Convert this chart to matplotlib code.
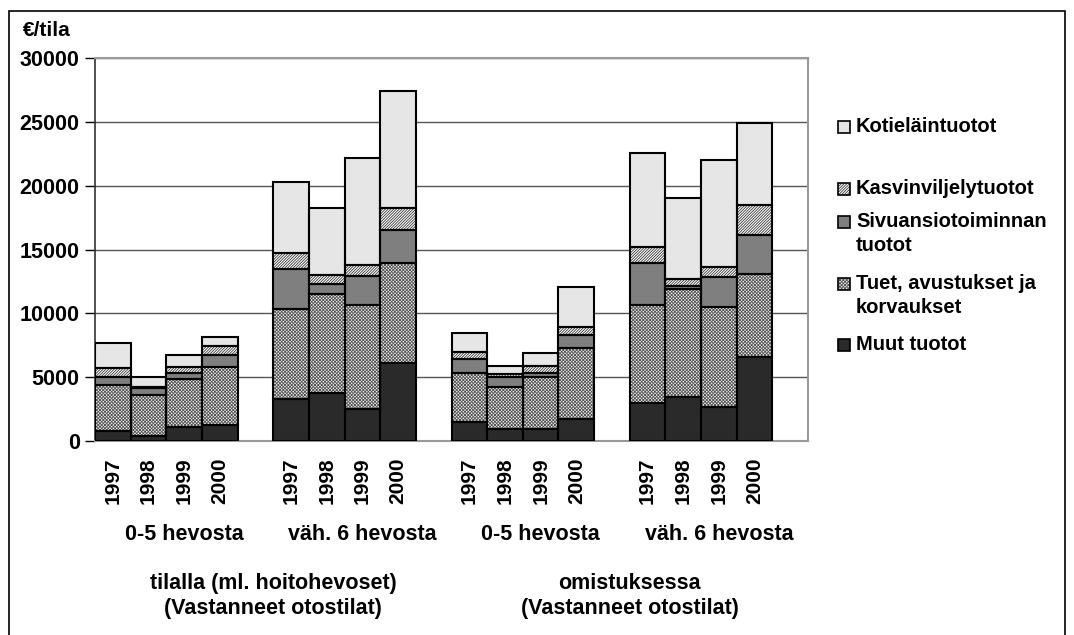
import matplotlib
import matplotlib.pyplot as plt
from matplotlib.patches import Rectangle
from matplotlib.transforms import blended_transform_factory

matplotlib.use("agg")

plt.rcParams["font.family"] = ["Liberation Sans", "DejaVu Sans"]
plt.rcParams["font.weight"] = "bold"
plt.rcParams["hatch.linewidth"] = 0.6

# values per bar, order: 4 years x (tilalla 0-5, tilalla 6+, omistuksessa 0-5, omistuksessa 6+)
years = ["1997", "1998", "1999", "2000"]
group_labels = ["0-5 hevosta", "väh. 6 hevosta", "0-5 hevosta", "väh. 6 hevosta"]
top_labels = ["tilalla (ml. hoitohevoset)\n(Vastanneet otostilat)",
              "omistuksessa\n(Vastanneet otostilat)"]

muut = [800, 400, 1120, 1250, 3320, 3790, 2480, 6080,
        1460, 970, 940, 1750, 3000, 3470, 2690, 6570]
tuet = [3580, 3200, 3710, 4520, 7000, 7750, 8160, 7880,
        3840, 3260, 4100, 5510, 7670, 8400, 7770, 6550]
sivu = [630, 520, 520, 940, 3130, 780, 2300, 2580,
        1090, 810, 260, 1010, 3240, 260, 2410, 2980]
kasvi = [680, 110, 470, 750, 1250, 650, 830, 1730,
         610, 180, 570, 630, 1270, 580, 750, 2350]
kotie = [2010, 770, 910, 680, 5610, 5300, 8410, 9180,
         1430, 630, 1020, 3150, 7340, 6360, 8400, 6420]

series = [
    # label, values, face, hatch, hatch colour
    ("Muut tuotot", muut, "#2a2a2a", None, "#2a2a2a"),
    ("Tuet, avustukset ja\nkorvaukset", tuet, "#eeeeee", "x" * 10, "#555555"),
    ("Sivuansiotoiminnan\ntuotot", sivu, "#7f7f7f", None, "#7f7f7f"),
    ("Kasvinviljelytuotot", kasvi, "white", "/" * 12, "#383838"),
    ("Kotieläintuotot", kotie, "#e6e6e6", None, "#e6e6e6"),
]

W, H = 1074, 635
fig = plt.figure(figsize=(W / 100, H / 100), dpi=100)
ax = fig.add_axes([95 / W, 1 - 441 / H, 713 / W, 383 / H])

x = [g * 5 + i for g in range(4) for i in range(4)]
bottom = [0] * len(x)
for label, vals, face, hatch, hcol in series:
    ax.bar(x, vals, bottom=bottom, width=1, color=face, hatch=hatch,
           edgecolor=hcol, linewidth=0, zorder=3)
    ax.bar(x, vals, bottom=bottom, width=1, facecolor="none",
           edgecolor="black", linewidth=1.5, zorder=4)
    bottom = [b + v for b, v in zip(bottom, vals)]

ax.set_xlim(-0.5, 19.5)
ax.set_ylim(0, 30000)
ax.set_yticks(range(0, 30001, 5000))
ax.tick_params(axis="y", labelsize=15.5, length=7, width=1, color="black", pad=4)
ax.yaxis.grid(True, color="#555555", linewidth=1, zorder=0)
ax.set_axisbelow(True)

ax.set_xticks(x, years * 4, rotation=90, fontsize=15, fontweight="bold")
ax.tick_params(axis="x", length=0, pad=12)

for side in ["top", "right", "bottom"]:
    ax.spines[side].set_color("#999999")
    ax.spines[side].set_linewidth(1.5)
ax.spines["left"].set_color("#333333")
ax.spines["left"].set_linewidth(1.2)

trans = blended_transform_factory(ax.transData, fig.transFigure)
for g, lab in enumerate(group_labels):
    ax.text(g * 5 + 1.5 + 0.5, 1 - 534 / H, lab, transform=trans,
            ha="center", va="center", fontsize=15.5, fontweight="bold")
for k, lab in enumerate(top_labels):
    ax.text(k * 10 + 4.5, 1 - 596 / H, lab, transform=trans,
            ha="center", va="center", fontsize=15.5, fontweight="bold",
            linespacing=1.3, clip_on=False)

fig.text(23 / W, 1 - 31 / H, "€/tila", fontsize=15, fontweight="bold",
         ha="left", va="center")

# legend drawn by hand to follow the original spacing
legend_rows = [
    ("Kotieläintuotot", 127),
    ("Kasvinviljelytuotot", 189),
    ("Sivuansiotoiminnan\ntuotot", 222),
    ("Tuet, avustukset ja\nkorvaukset", 284),
    ("Muut tuotot", 345),
]
styles = {s[0]: s for s in series}
for label, ypx in legend_rows:
    _, _, face, hatch, hcol = styles[label]
    sq = 12
    fig.add_artist(Rectangle((838 / W, 1 - (ypx + sq / 2) / H), sq / W, sq / H,
                             transform=fig.transFigure, facecolor=face,
                             hatch=hatch, edgecolor=hcol, linewidth=0))
    fig.add_artist(Rectangle((838 / W, 1 - (ypx + sq / 2) / H), sq / W, sq / H,
                             transform=fig.transFigure, facecolor="none",
                             edgecolor="black", linewidth=1.2))
    fig.text(856 / W, 1 - (ypx - 10) / H, label, fontsize=14.5,
             fontweight="bold", ha="left", va="top", linespacing=1.35)

# outer frame
fig.add_artist(Rectangle((9 / W, -0.05), (1065 - 9) / W, 1.05 - 11 / H,
                         transform=fig.transFigure, fill=False,
                         edgecolor="black", linewidth=1.2, clip_on=False))

fig.savefig("out.png", dpi=100)
